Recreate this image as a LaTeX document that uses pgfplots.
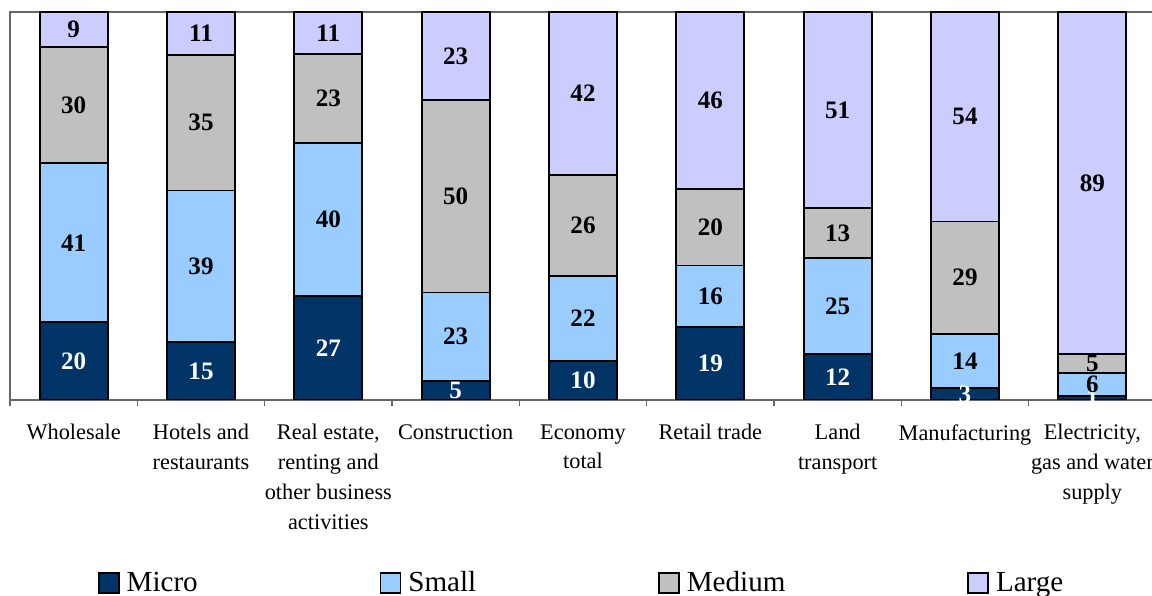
\documentclass[border=0pt]{standalone}
\usepackage{fontspec}
\setmainfont{Liberation Serif}
\usepackage{pgfplots}
\pgfplotsset{compat=1.18}
\usepackage{pgfplotstable}
\definecolor{cMicro}{RGB}{0,51,102}
\definecolor{cSmall}{RGB}{153,204,255}
\definecolor{cMedium}{RGB}{192,192,192}
\definecolor{cLarge}{RGB}{204,204,255}

% heights (normalised to 100) and printed labels
\pgfplotstableread{
x mi sm me la lmi lsm lme lla
0 20 41 30 9 20 41 30 9
1 15 39 35 11 15 39 35 11
2 26.73 39.60 22.77 10.89 27 40 23 11
3 4.95 22.77 49.50 22.77 5 23 50 23
4 10 22 26 42 10 22 26 42
5 18.81 15.84 19.80 45.54 19 16 20 46
6 11.88 24.75 12.87 50.50 12 25 13 51
7 3 14 29 54 3 14 29 54
8 0.99 5.94 4.95 88.12 1 6 5 89
}\datatable

\pgfplotsset{
  base/.style={
    at={(5bp,98bp)}, anchor=south west,
    scale only axis, width=573bp, height=194bp,
    xmin=-0.5, xmax=8.5, ymin=0, ymax=100,
  },
  barlab/.style={draw=none, mark=none, nodes near coords, point meta=explicit symbolic,
    nodes near coords align={center},
    every node near coord/.append style={font=\fontsize{12.6}{14}\selectfont\bfseries, anchor=center, inner sep=0pt, text=#1}},
}
\begin{document}
\begin{tikzpicture}
\begin{axis}[base,
  ybar stacked, bar width=34bp,
  ytick=\empty,
  xtick={0,...,8},
  xticklabels={{Wholesale}, {Hotels and\\restaurants}, {Real estate,\\renting and\\other business\\activities}, {Construction}, {Economy\\total}, {Retail trade}, {Land\\transport}, {Manufacturing}, {Electricity,\\gas and water\\supply}},
  major tick length=0pt,
  minor xtick={-0.5,0.5,...,8.5},
  minor tick length=3bp,
  tick align=outside,
  xtick pos=left,
  axis line style={draw=black!60, line width=0.6bp},
  minor tick style={draw=black!60, line width=0.6bp},
  x tick label style={font=\fontsize{11.2}{15}\selectfont, align=center, anchor=north, inner sep=0pt, yshift=-12bp},
  legend columns=4,
  legend style={draw=none, at={(0.0765,-0.4716)}, anchor=west, inner sep=0pt,
    font=\fontsize{14.6}{17}\selectfont,
    /tikz/every even column/.append style={column sep=87.5bp},
    nodes={inner xsep=3.5bp, inner ysep=1bp}},
  legend image code/.code={\draw[#1, draw=black, line width=0.8bp] (0bp,-5bp) rectangle (10bp,5bp);},
  every axis plot/.append style={draw=black, line width=0.9bp},
]
\addplot[fill=cMicro] table[x=x, y=mi] {\datatable};
\addplot[fill=cSmall] table[x=x, y=sm] {\datatable};
\addplot[fill=cMedium] table[x=x, y=me] {\datatable};
\addplot[fill=cLarge] table[x=x, y=la] {\datatable};
\legend{Micro, Small, Medium, Large}
\end{axis}
\begin{axis}[base, hide axis]
\addplot[barlab=white] table[x=x, y expr=\thisrow{mi}/2, meta=lmi] {\datatable};
\addplot[barlab=black] table[x=x, y expr=\thisrow{mi}+\thisrow{sm}/2, meta=lsm] {\datatable};
\addplot[barlab=black] table[x=x, y expr=\thisrow{mi}+\thisrow{sm}+\thisrow{me}/2, meta=lme] {\datatable};
\addplot[barlab=black] table[x=x, y expr=\thisrow{mi}+\thisrow{sm}+\thisrow{me}+\thisrow{la}/2, meta=lla] {\datatable};
\end{axis}
\pgfresetboundingbox
\path (0,0) rectangle (576bp,298bp);
\end{tikzpicture}
\end{document}
